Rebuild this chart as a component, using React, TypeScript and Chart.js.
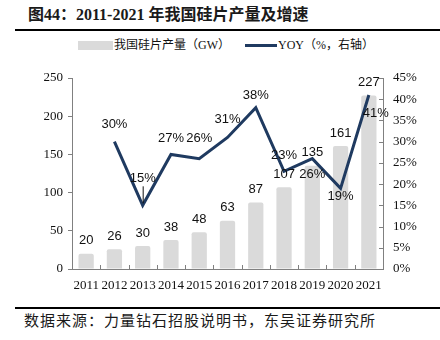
import React, { useEffect, useRef } from 'react';
import { Chart, registerables } from 'chart.js';

Chart.register(...registerables);

const years = ['2011', '2012', '2013', '2014', '2015', '2016', '2017', '2018', '2019', '2020', '2021'];
const output = [20, 26, 30, 38, 48, 63, 87, 107, 135, 161, 227];
const yoy: (number | null)[] = [null, 30, 15, 27, 26, 31, 38, 23, 26, 19, 41];
const yoyLabelDy = [0, -17, -27, -16, -20, -18, -12, -16, 16, 8, 18];
const yoyLabelDx = [0, 0, 0, 0, 0, 0, 0, 0, 0, 0, 7];

const BAR_COLOR = '#dadada';
const LINE_COLOR = '#1f3a60';
const AXIS_COLOR = '#808080';
const SERIF = '"Times New Roman", "Liberation Serif", serif';
const CJK = '"Times New Roman", "Liberation Serif", "Noto Sans CJK SC", serif';

const labelPlugin = {
  id: 'valueLabels',
  afterDatasetsDraw(chart: any) {
    const ctx = chart.ctx;
    const barMeta = chart.getDatasetMeta(0);
    const lineMeta = chart.getDatasetMeta(1);
    ctx.save();
    ctx.font = '13px "Liberation Sans", Arial, sans-serif';
    ctx.fillStyle = '#111';
    ctx.textAlign = 'center';
    ctx.textBaseline = 'middle';
    barMeta.data.forEach((el: any, i: number) => {
      ctx.fillText(String(output[i]), el.x, el.y - 13);
    });
    lineMeta.data.forEach((el: any, i: number) => {
      const v = yoy[i];
      if (v == null) return;
      const dy = yoyLabelDy[i];
      ctx.fillText(v + '%', el.x + yoyLabelDx[i], el.y + dy);
      if (dy < -22) {
        ctx.strokeStyle = '#111';
        ctx.lineWidth = 1;
        ctx.beginPath();
        ctx.moveTo(el.x + 0.5, el.y + dy + 8);
        ctx.lineTo(el.x + 0.5, el.y - 2);
        ctx.stroke();
      }
    });
    ctx.restore();
  },
  afterDraw(chart: any) {
    const ctx = chart.ctx;
    const { left, right, bottom } = chart.chartArea;
    const n = years.length;
    const w = (right - left) / n;
    ctx.save();
    ctx.strokeStyle = AXIS_COLOR;
    ctx.lineWidth = 1;
    ctx.beginPath();
    for (let k = 1; k < n; k++) {
      const x = Math.round(left + k * w) + 0.5;
      ctx.moveTo(x, bottom);
      ctx.lineTo(x, bottom - 4);
    }
    const y1 = chart.scales.y1;
    y1.ticks.forEach((t: any) => {
      const y = Math.round(y1.getPixelForValue(t.value)) + 0.5;
      ctx.moveTo(right, y);
      ctx.lineTo(right - 4, y);
    });
    ctx.stroke();
    ctx.restore();
  },
};

export default function App() {
  const ref = useRef<HTMLCanvasElement>(null);

  useEffect(() => {
    if (!ref.current) return;
    const chart = new Chart(ref.current, {
      data: {
        labels: years,
        datasets: [
          {
            type: 'bar',
            label: '我国硅片产量（GW）',
            data: output,
            backgroundColor: BAR_COLOR,
            borderRadius: 2,
            borderSkipped: 'bottom',
            yAxisID: 'y',
            barPercentage: 0.6,
            categoryPercentage: 0.9,
            order: 2,
          },
          {
            type: 'line',
            label: 'YOY（%，右轴）',
            data: yoy,
            borderColor: LINE_COLOR,
            backgroundColor: LINE_COLOR,
            borderWidth: 3,
            pointRadius: 0,
            tension: 0,
            yAxisID: 'y1',
            order: 1,
          },
        ],
      } as any,
      options: {
        animation: false,
        responsive: true,
        maintainAspectRatio: false,
        layout: { padding: { top: 18, left: 0, right: 0, bottom: 0 } },
        plugins: {
          legend: { display: false },
          tooltip: { enabled: false },
        },
        scales: {
          x: {
            type: 'category',
            offset: true,
            grid: { display: false, drawTicks: false },
            border: { display: true, color: AXIS_COLOR, width: 1 },
            ticks: {
              font: { family: SERIF, size: 13 },
              color: '#111',
              padding: 9,
              maxRotation: 0,
              autoSkip: false,
            },
            afterFit: (s: any) => {
              s.height = 31;
            },
          },
          y: {
            position: 'left',
            min: 0,
            max: 250,
            ticks: {
              stepSize: 50,
              font: { family: SERIF, size: 13 },
              color: '#111',
              padding: 5,
            },
            grid: { drawOnChartArea: false, drawTicks: true, tickLength: 4, color: AXIS_COLOR },
            border: { display: true, color: AXIS_COLOR, width: 1 },
            afterFit: (s: any) => {
              s.width = 72;
            },
          },
          y1: {
            position: 'right',
            min: 0,
            max: 45,
            ticks: {
              stepSize: 5,
              font: { family: SERIF, size: 13 },
              color: '#111',
              padding: 10,
              callback: (v: any) => v + '%',
            },
            grid: { display: false, drawTicks: false },
            border: { display: true, color: AXIS_COLOR, width: 1 },
            afterFit: (s: any) => {
              s.width = 57;
            },
          },
        },
      } as any,
      plugins: [labelPlugin],
    });
    return () => chart.destroy();
  }, []);

  return (
    <div style={{ position: 'absolute', left: 0, top: 0, width: 440, height: 340, background: '#fff', overflow: 'hidden' }}>
      <div
        style={{
          position: 'absolute',
          left: 28,
          top: 6,
          fontFamily: CJK,
          fontWeight: 'bold',
          fontSize: 16,
          lineHeight: '18px',
          color: '#1a1a1a',
          whiteSpace: 'nowrap',
        }}
      >
        图44：2011-2021 年我国硅片产量及增速
      </div>
      <div style={{ position: 'absolute', left: 15, top: 29, width: 425, height: 2, background: '#000' }} />

      <div style={{ position: 'absolute', left: 78, top: 41, width: 35, height: 9, background: BAR_COLOR }} />
      <div
        style={{
          position: 'absolute',
          left: 114,
          top: 38,
          fontFamily: CJK,
          fontSize: 12,
          lineHeight: '14px',
          color: '#111',
          whiteSpace: 'nowrap',
        }}
      >
        我国硅片产量（GW）
      </div>
      <div style={{ position: 'absolute', left: 245, top: 44, width: 32, height: 3, background: LINE_COLOR }} />
      <div
        style={{
          position: 'absolute',
          left: 278,
          top: 38,
          fontFamily: CJK,
          fontSize: 12,
          lineHeight: '14px',
          color: '#111',
          whiteSpace: 'nowrap',
        }}
      >
        YOY（%，右轴）
      </div>

      <div style={{ position: 'absolute', left: 0, top: 60, width: 440, height: 240 }}>
        <canvas ref={ref} />
      </div>

      <div style={{ position: 'absolute', left: 15, top: 307, width: 425, height: 2, background: '#000' }} />
      <div
        style={{
          position: 'absolute',
          left: 24,
          top: 312,
          fontFamily: CJK,
          fontSize: 15,
          lineHeight: '18px',
          letterSpacing: 1,
          color: '#1a1a1a',
          whiteSpace: 'nowrap',
        }}
      >
        数据来源：力量钻石招股说明书，东吴证券研究所
      </div>
    </div>
  );
}
